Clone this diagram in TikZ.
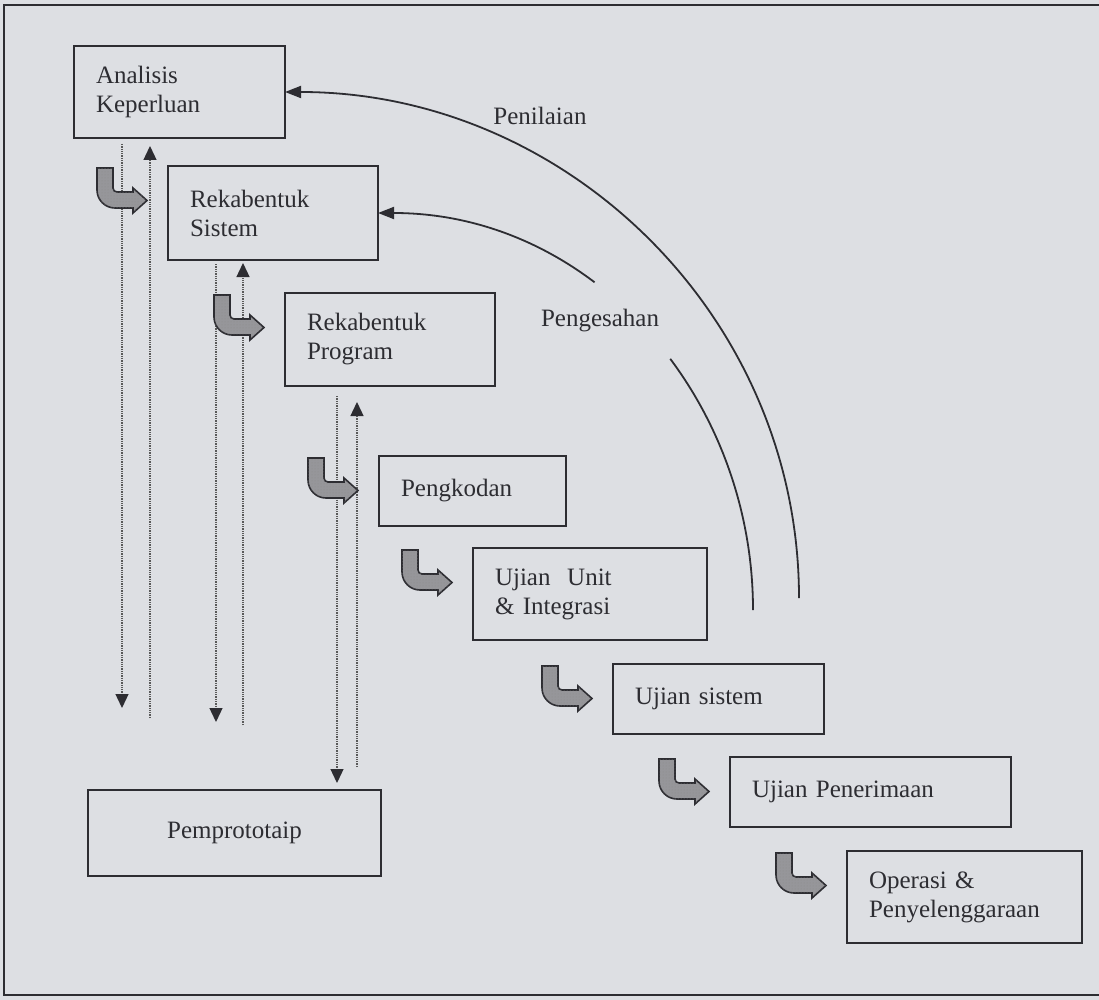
\documentclass[tikz,border=0pt]{standalone}
\usepackage{fontspec}
\setmainfont{Liberation Serif}
\usetikzlibrary{arrows.meta, patterns}
\definecolor{paper}{RGB}{221,223,227}
\definecolor{ink}{RGB}{45,45,50}
\definecolor{hook}{RGB}{150,150,154}

\tikzset{
    box/.style={draw=ink, line width=1.8pt, fill=paper, anchor=north west,
        inner xsep=22pt, inner ysep=0pt, outer sep=0pt, align=left, text=ink},
    dotline/.style={draw=black!65, line width=1.3pt, densely dotted},
    tri/.tip={Triangle[length=14pt, width=13pt, color=ink]},
    arctip/.tip={Triangle[length=16pt, width=12pt, color=ink]},
    arcline/.style={draw=ink, line width=1.8pt},
    bentarrow/.pic={
        \draw[draw=ink, line width=1.6pt, fill=hook,
              postaction={pattern=dots, pattern color=black!45}]
            (0,0) -- (0,-22) arc[start angle=180, end angle=270, radius=18]
            -- (36,-40) -- (36,-45) -- (50,-32.5) -- (36,-20) -- (36,-24) -- (20,-24)
            arc[start angle=270, end angle=180, radius=4] -- (16,0) -- cycle;
    }
}

\begin{document}
\begin{tikzpicture}[x=1pt, y=1pt, font=\fontsize{25}{29}\selectfont, text=ink]
        \useasboundingbox (0,0) rectangle (1099,-1000);
        \fill[paper] (0,0) rectangle (1099,-1000);
        \draw[ink, line width=2.5pt] (1099,-5) -- (4,-5) -- (4,-995) -- (1099,-995);

        % Draw the phases
        \node[box, text width=167pt, minimum height=92pt] (anal)   at (74,-46)   {Analisis\\Keperluan};
        \node[box, text width=166pt, minimum height=94pt] (sist)   at (168,-166) {Rekabentuk\\Sistem};
        \node[box, text width=166pt, minimum height=93pt] (prog)   at (285,-293) {Rekabentuk\\Program};
        \node[box, text width=143pt, minimum height=70pt] (kod)    at (379,-456) {Pengkodan};
        \node[box, text width=190pt, minimum height=92pt] (unit)   at (473,-548) {Ujian\ \ Unit\\\& Integrasi};
        \node[box, text width=167pt, minimum height=70pt] (usis)   at (613,-664) {Ujian sistem};
        \node[box, text width=237pt, minimum height=70pt] (terima) at (730,-757) {Ujian Penerimaan};
        \node[box, text width=191pt, minimum height=92pt] (ops)    at (847,-851) {Operasi \&\\Penyelenggaraan};
        \node[box, text width=249pt, minimum height=86pt, align=center] (proto) at (88,-790) {Pemprototaip};

        % Free ends of the dotted lines and the arcs
        \coordinate (d1) at (122,-708);
        \coordinate (u1) at (150,-718);
        \coordinate (d2) at (216,-722);
        \coordinate (u2) at (243,-725);
        \coordinate (d3) at (337,-783);
        \coordinate (u3) at (357,-767);
        \coordinate (nilai) at (799,-598);
        \coordinate (sah)   at (753,-610);

        % Connect the phases with dotted lines
        \draw[dotline]
            (anal.south -| d1) edge[shorten <=6pt, -tri] (d1)
            (u1) edge[-tri, shorten >=8pt] (anal.south -| u1)
            (sist.south -| d2) edge[shorten <=4pt, -tri] (d2)
            (u2) edge[-tri, shorten >=3pt] (sist.south -| u2)
            (prog.south -| d3) edge[shorten <=10pt, -tri] (d3)
            (u3) edge[-tri, shorten >=16pt] (prog.south -| u3);

        % Bent arrows in front of each phase
        \foreach \b in {sist, prog, kod, unit, usis, terima, ops}
            \pic at ([shift={(-71,-2)}]\b.north west) {bentarrow};

        % Feedback arcs
        \draw[arcline]
            (nilai) edge[out=90, in=0, -arctip] (anal.east)
            (sah) edge[out=90, in=0, -arctip, dash pattern=on 269pt off 108pt on 500pt] (sist.east);
        \node (lnilai) at (540,-116) {Penilaian};
        \node (lsah)   at (600,-321) {Pengesahan};
\end{tikzpicture}
\end{document}
